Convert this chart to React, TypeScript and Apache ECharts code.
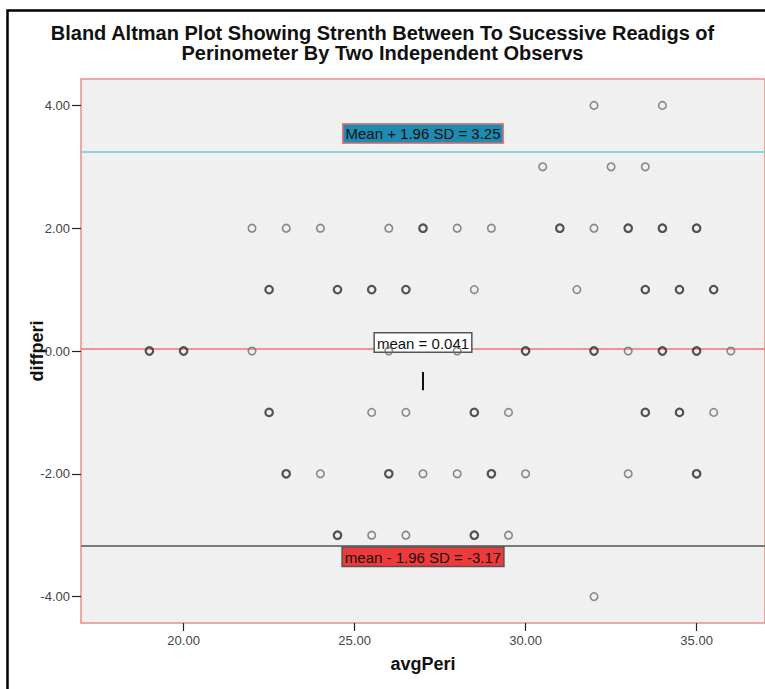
import React, { useEffect, useRef } from "react";
import * as echarts from "echarts";

// [avgPeri, diffperi, overlapping observations]
const POINTS: [number, number, number][] = [
  [32, 4, 1], [34, 4, 1],
  [30.5, 3, 1], [32.5, 3, 1], [33.5, 3, 1],
  [22, 2, 1], [23, 2, 1], [24, 2, 1], [26, 2, 1], [27, 2, 2], [28, 2, 1], [29, 2, 1],
  [31, 2, 2], [32, 2, 1], [33, 2, 2], [34, 2, 2], [35, 2, 2],
  [22.5, 1, 2], [24.5, 1, 2], [25.5, 1, 2], [26.5, 1, 2], [28.5, 1, 1], [31.5, 1, 1],
  [33.5, 1, 2], [34.5, 1, 2], [35.5, 1, 2],
  [19, 0, 2], [20, 0, 2], [22, 0, 1], [26, 0, 1], [28, 0, 1], [30, 0, 2], [32, 0, 2],
  [33, 0, 1], [34, 0, 2], [35, 0, 2], [36, 0, 1],
  [22.5, -1, 2], [25.5, -1, 1], [26.5, -1, 1], [28.5, -1, 2], [29.5, -1, 1],
  [33.5, -1, 2], [34.5, -1, 2], [35.5, -1, 1],
  [23, -2, 2], [24, -2, 1], [26, -2, 2], [27, -2, 1], [28, -2, 1], [29, -2, 2],
  [30, -2, 1], [33, -2, 1], [35, -2, 2],
  [24.5, -3, 2], [25.5, -3, 1], [26.5, -3, 1], [28.5, -3, 2], [29.5, -3, 1],
  [32, -4, 1],
];

const MEAN_DIFF = 0.041;
const UPPER_LOA = 3.25;
const LOWER_LOA = -3.17;

// small stray vertical stroke in the original
const STRAY_MARK: [number, number][] = [[27, -0.34], [27, -0.64]];

const X_TICKS = [20, 25, 30, 35];
const Y_TICKS = [-4, -2, 0, 2, 4];

const TITLE = "Bland Altman Plot Showing Strenth Between To Sucessive Readigs of\nPerinometer By Two Independent Observs";
const X_NAME = "avgPeri";
const Y_NAME = "diffperi";

const FONT = "'Liberation Sans', Arial, Helvetica, sans-serif";

export default function App() {
  const ref = useRef<HTMLDivElement>(null);

  useEffect(() => {
    if (!ref.current) return;
    const chart = echarts.init(ref.current, undefined, { renderer: "svg" });

    const labelBase = {
      show: true,
      fontSize: 15,
      fontFamily: FONT,
      color: "#111",
      borderWidth: 1.5,
      padding: [1, 2, 0, 2],
      lineHeight: 17,
    };

    chart.setOption({
      animation: false,
      backgroundColor: "#ffffff",
      title: {
        text: TITLE,
        left: "center",
        top: 23,
        padding: 0,
        textStyle: {
          fontSize: 20,
          fontWeight: "bold",
          fontFamily: FONT,
          color: "#111",
          lineHeight: 20,
          align: "center",
        },
      },
      graphic: [
        {
          type: "rect",
          silent: true,
          shape: { x: 7.5, y: 10.5, width: 1000, height: 1000 },
          style: { fill: "none", stroke: "#000", lineWidth: 2.5 },
        },
      ],
      grid: {
        left: 81,
        top: 79,
        right: -2,
        bottom: 66,
        show: true,
        backgroundColor: "#f0f0f0",
        borderColor: "#f08c8c",
        borderWidth: 1.5,
      },
      xAxis: {
        type: "value",
        min: 17,
        max: 37,
        name: X_NAME,
        nameLocation: "middle",
        nameGap: 32,
        nameMoveOverlap: false,
        nameTextStyle: { fontSize: 18, fontWeight: "bold", fontFamily: FONT, color: "#111" },
        axisLine: { show: false, onZero: false },
        splitLine: { show: false },
        axisTick: {
          show: true,
          length: 8,
          customValues: X_TICKS,
          lineStyle: { color: "#222", width: 1.2 },
        },
        axisLabel: {
          customValues: X_TICKS,
          formatter: (v: number) => v.toFixed(2),
          fontSize: 13,
          fontFamily: FONT,
          color: "#444",
          margin: 11,
        },
      },
      yAxis: {
        type: "value",
        min: -4.43,
        max: 4.43,
        name: Y_NAME,
        nameLocation: "middle",
        nameGap: 35,
        nameRotate: 90,
        nameMoveOverlap: false,
        nameTextStyle: { fontSize: 18, fontWeight: "bold", fontFamily: FONT, color: "#111" },
        axisLine: { show: false, onZero: false },
        splitLine: { show: false },
        axisTick: {
          show: true,
          length: 9,
          customValues: Y_TICKS,
          lineStyle: { color: "#222", width: 1.2 },
        },
        axisLabel: {
          customValues: Y_TICKS,
          formatter: (v: number) => v.toFixed(2),
          fontSize: 13,
          fontFamily: FONT,
          color: "#444",
          margin: 11,
        },
      },
      series: [
        {
          type: "scatter",
          symbol: "circle",
          symbolSize: 7.5,
          z: 3,
          data: POINTS.map(([x, y, n]) => ({
            value: [x, y],
            itemStyle: {
              color: "rgba(0,0,0,0)",
              borderColor: n > 1 ? "#2a2a2a" : "#6e6e6e",
              borderWidth: n > 1 ? 2.2 : 1.6,
            },
          })),
          markLine: {
            silent: true,
            symbol: ["none", "none"],
            z: 2,
            data: [
              {
                yAxis: UPPER_LOA,
                lineStyle: { color: "#8fd3da", width: 2, type: "solid" },
                label: {
                  ...labelBase,
                  position: "insideMiddleTop",
                  distance: 9,
                  backgroundColor: "#1f8bb0",
                  borderColor: "#ee7777",
                  formatter: () => `Mean + 1.96 SD = ${UPPER_LOA.toFixed(2)}`,
                },
              },
              {
                yAxis: MEAN_DIFF,
                lineStyle: { color: "#f07575", width: 1.5, type: "solid" },
                label: {
                  ...labelBase,
                  position: "insideMiddleTop",
                  distance: -3,
                  backgroundColor: "#ffffff",
                  borderColor: "#555",
                  formatter: () => `mean = ${MEAN_DIFF.toFixed(3)}`,
                },
              },
              {
                yAxis: LOWER_LOA,
                lineStyle: { color: "#7a7a7a", width: 2, type: "solid" },
                label: {
                  ...labelBase,
                  position: "insideMiddleBottom",
                  distance: 2,
                  backgroundColor: "#ee3a3a",
                  borderColor: "#555",
                  formatter: () => `mean - 1.96 SD = ${LOWER_LOA.toFixed(2)}`,
                },
              },
            ],
          },
        },
        {
          type: "line",
          data: STRAY_MARK,
          symbol: "none",
          z: 3,
          lineStyle: { color: "#111", width: 2 },
        },
      ],
    });

    return () => chart.dispose();
  }, []);

  return (
    <div
      ref={ref}
      style={{ position: "absolute", left: 0, top: 0, width: 765, height: 689 }}
    />
  );
}
